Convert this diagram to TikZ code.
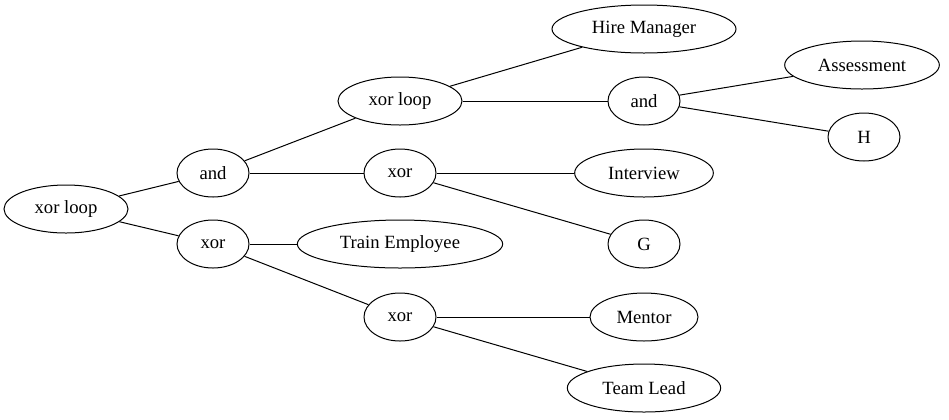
\documentclass[tikz,border=0pt]{standalone}
\usepackage{fontspec}
\setmainfont{Liberation Serif}
\usetikzlibrary{shapes.geometric}
\begin{document}
\begin{tikzpicture}[x=0.75pt,y=-0.75pt,
  nd/.style={draw,ellipse,line width=0.75pt,inner sep=0pt,minimum height=36pt,minimum width=#1,font=\fontsize{14pt}{16pt}\selectfont},
  nd/.default=54pt,
  edge/.style={line width=0.75pt}]
\useasboundingbox (0,0) rectangle (949,419);
\node[nd=93pt] (root) at (66,209) {xor loop};
\node[nd] (and1) at (213,173) {and};
\node[nd] (xor1) at (213,244) {xor};
\node[nd=93pt] (xl2) at (400,101) {xor loop};
\node[nd] (xor2) at (400,173) {xor};
\node[nd=154pt] (train) at (400,244) {Train Employee};
\node[nd] (xor3) at (400,317) {xor};
\node[nd=138pt] (hire) at (644,29) {Hire Manager};
\node[nd] (and2) at (644,101) {and};
\node[nd=104pt] (interview) at (644,173) {Interview};
\node[nd] (g) at (644,244) {G};
\node[nd=81pt] (mentor) at (644,317) {Mentor};
\node[nd=115pt] (team) at (644,388) {Team Lead};
\node[nd=116pt] (assess) at (862,65) {Assessment};
\node[nd] (h) at (864,137) {H};
\draw[edge] (root) -- (and1);
\draw[edge] (root) -- (xor1);
\draw[edge] (and1) -- (xl2);
\draw[edge] (and1) -- (xor2);
\draw[edge] (xor1) -- (train);
\draw[edge] (xor1) -- (xor3);
\draw[edge] (xl2) -- (hire);
\draw[edge] (xl2) -- (and2);
\draw[edge] (and2) -- (assess);
\draw[edge] (and2) -- (h);
\draw[edge] (xor2) -- (interview);
\draw[edge] (xor2) -- (g);
\draw[edge] (xor3) -- (mentor);
\draw[edge] (xor3) -- (team);
\end{tikzpicture}
\end{document}
